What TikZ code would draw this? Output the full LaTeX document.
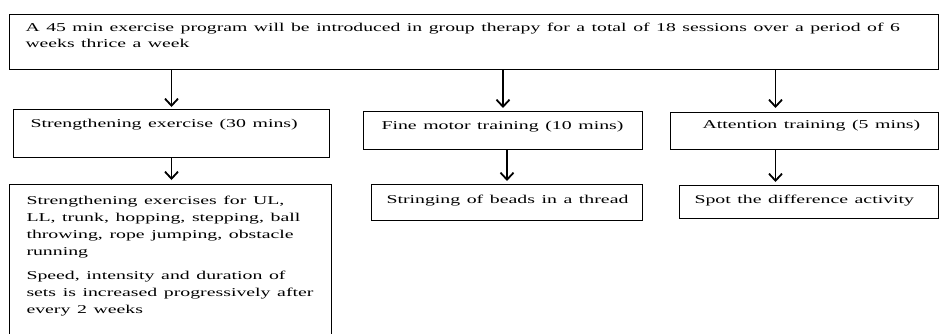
\documentclass[tikz,border=0pt]{standalone}
\usepackage{fontspec}
\setmainfont{Liberation Serif}
\usepackage{graphicx}
\usepackage{tikz}
\usetikzlibrary{arrows.meta}
\newcommand{\widetext}[2][1.65]{\scalebox{#1}[1]{\begin{tabular}[t]{@{}l@{}}#2\end{tabular}}}

\begin{document}
\begin{tikzpicture}[x=1pt, y=-1pt]
\tikzstyle{box}=[draw, line width=1pt, anchor=north west, align=left, inner ysep=0pt, font=\fontsize{12}{16.5}\selectfont]
\tikzstyle{arr}=[line width=1.8pt, -{Straight Barb[length=7pt, width=13pt]}]
\useasboundingbox (0,0) rectangle (939,333);
\clip (0,0) rectangle (939,333);

\node[box, inner xsep=16pt, text width=897pt, text height=17pt, text depth=38pt, font=\fontsize{12}{16}\selectfont] (prog) at (9,14)
  {\widetext[1.64]{A 45 min exercise program will be introduced in group therapy for a total of 18 sessions over a period of 6\\weeks thrice a week}};

\node[box, inner xsep=17pt, text width=282pt, text height=18pt, text depth=30pt] (strength) at (13,109)
  {\widetext{Strengthening exercise (30 mins)}};
\node[box, inner xsep=18pt, text width=243pt, text height=18pt, text depth=20pt] (fine) at (363,111)
  {\widetext{Fine motor training (10 mins)}};
\node[box, inner xsep=32pt, text width=204pt, text height=16pt, text depth=21pt] (attn) at (670,112)
  {\widetext{Attention training (5 mins)}};

\node[box, inner xsep=17pt, text width=288pt, text height=20pt, text depth=141pt, font=\fontsize{12}{17}\selectfont] (detail) at (9,184)
  {\widetext{Strengthening exercises for UL,\\LL, trunk, hopping, stepping, ball\\throwing, rope jumping, obstacle\\running\\[7pt]
   Speed, intensity and duration of\\sets is increased progressively after\\every 2 weeks}};
\node[box, inner xsep=15pt, text width=241pt, text height=19pt, text depth=17pt] (beads) at (371,184)
  {\widetext{Stringing of beads in a thread}};
\node[box, inner xsep=15pt, text width=229pt, text height=18pt, text depth=15pt] (spot) at (679,185)
  {\widetext{Spot the difference activity}};

\coordinate (attnin) at ([xshift=-29pt]attn.north);

\draw[arr, shorten >=2pt] (prog.south -| strength.north) -- (strength.north);
\draw[arr, shorten >=3pt] (prog.south -| fine.north) -- (fine.north);
\draw[arr, shorten >=4pt] (prog.south -| attnin) -- (attnin);
\draw[arr, shorten >=4pt] (strength.south) -- (strength.south |- detail.north);
\draw[arr, shorten >=3pt] (fine.south -| beads.north) -- (beads.north);
\draw[arr, shorten >=3pt] (attnin |- attn.south) -- (attnin |- spot.north);
\end{tikzpicture}
\end{document}
